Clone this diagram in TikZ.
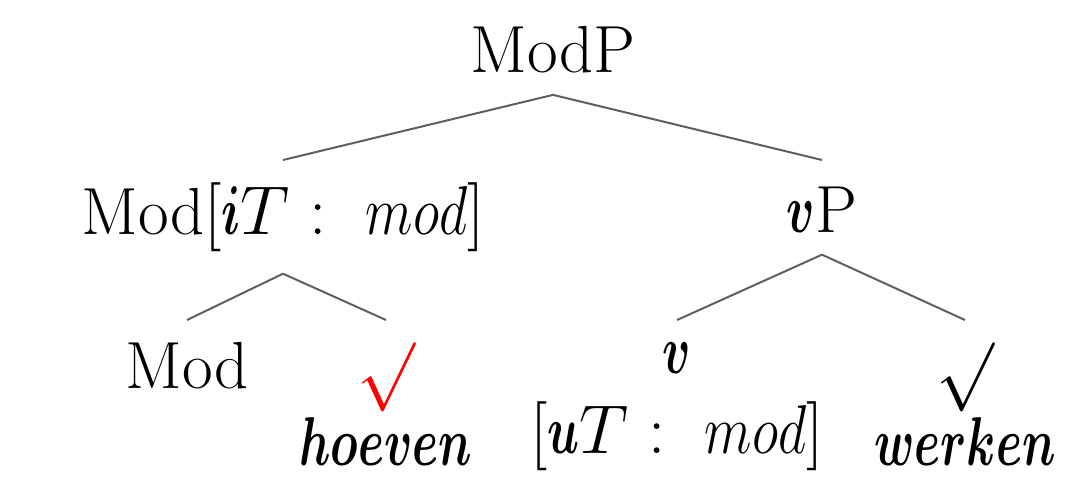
\documentclass[tikz,border=0pt]{standalone}
\usepackage{amsmath}
\usepackage{bm}
\usepackage{graphicx}
\usepackage{tikz}
\usetikzlibrary{positioning}
\usepackage{color}
\definecolor{branchgray}{RGB}{95,95,95}
% narrow math italic, plain and bold
\newcommand{\nmi}[1]{\scalebox{0.8}[1]{$#1$}}
\newcommand{\nbi}[1]{\scalebox{0.68}[1]{$\bm{#1}$}}
\tikzset{
	cat/.style={inner sep=6.5pt,font={\fontsize{20}{24}\selectfont}},
	leaf/.style={cat,align=center},
	branch/.style={draw=branchgray,line width=0.6pt}
}

\begin{document}
\begin{tikzpicture}[x=0.3pt,y=-0.3pt]
	\useasboundingbox (0,0) rectangle (1079,476);
	% the root
	\node[cat,anchor=base] (modp) at (553,72) {ModP};
	%% the two daughters
	\node[cat,anchor=north] (modbar) at (283,160) {Mod$[\nbi{i}T :\ \nmi{mod}]$};
	\node[cat,anchor=north,text height=15pt] (vp) at (822,160) {\nbi{v}P};
	%% the leaves
	\node[cat,anchor=north] (mod) at (187,320) {Mod};
	\node[leaf,anchor=north] (hoeven) at (386,320) {\textcolor{red}{$\surd$}\\[-2.5pt]\nbi{hoeven}};
	\node[leaf,anchor=north] (v) at (677,320) {\nbi{v}\\$[\nbi{u}T :\ \nmi{mod}]$};
	\node[leaf,anchor=north] (werken) at (965,320) {$\surd$\\[-2.5pt]\nbi{werken}};
	%% the branches
	\draw[branch] (modp.south) -- (modbar.north);
	\draw[branch] (modp.south) -- (vp.north);
	\draw[branch] (modbar.south) -- (mod.north);
	\draw[branch] (modbar.south) -- (hoeven.north);
	\draw[branch] (vp.south) -- (v.north);
	\draw[branch] (vp.south) -- (werken.north);
\end{tikzpicture}
\end{document}
